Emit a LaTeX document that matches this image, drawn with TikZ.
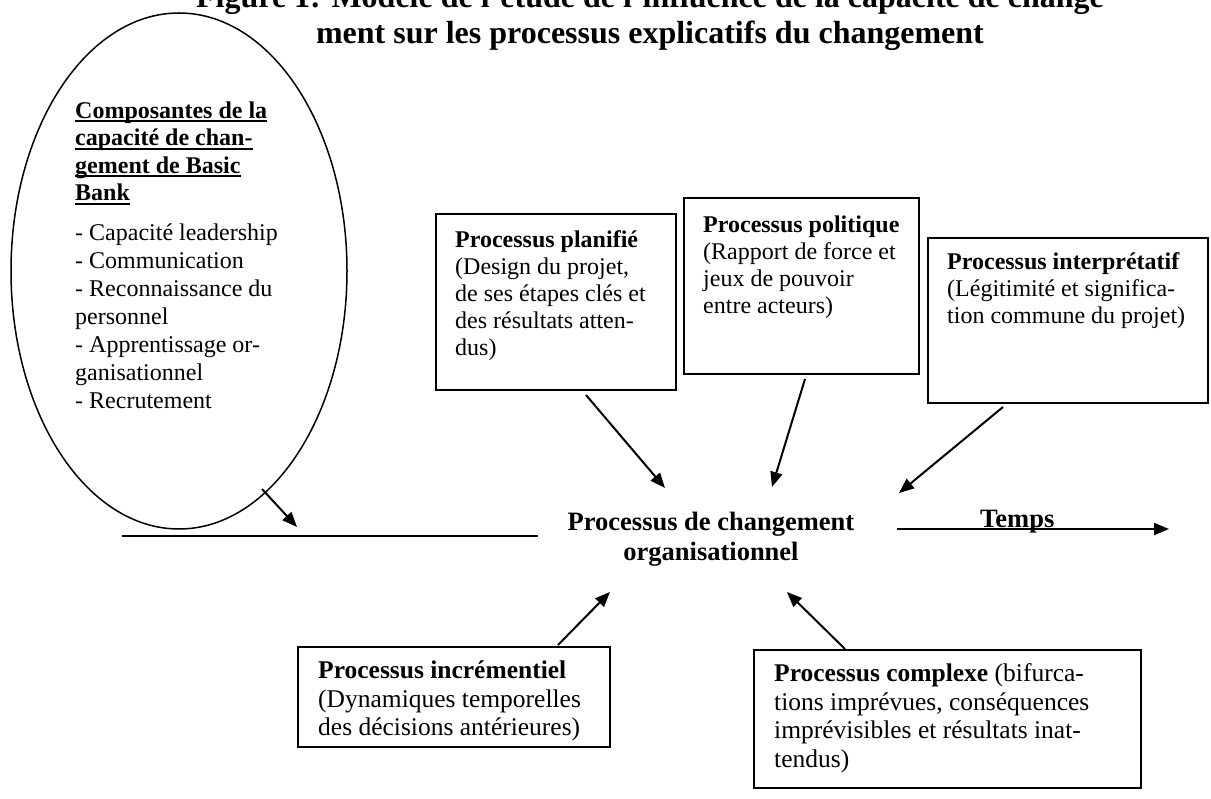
\documentclass[tikz,border=0pt]{standalone}
\usepackage{fontspec}
\setmainfont{Liberation Serif}
\usetikzlibrary{arrows.meta,shapes.geometric}
\newcommand\myul[1]{\setbox0\hbox{#1}\rlap{\rule[-4pt]{\wd0}{1.7pt}}\box0}
\newcommand\tp[1]{\rule{0pt}{#1}}
\begin{document}
\begin{tikzpicture}[x=1pt,y=-1pt,
  box/.style={draw, line width=1.8pt, inner sep=0pt, anchor=north west},
  txt/.style={anchor=north west, align=left, inner sep=0pt, font=\fontsize{24}{27}\selectfont},
  btxt/.style={anchor=north west, align=left, inner sep=0pt, font=\fontsize{25.5}{28.8}\selectfont},
  arr/.style={line width=2pt, -{Triangle[length=15pt,width=12pt]}},
  plainline/.style={line width=1.8pt}]
\clip (0,0) rectangle (1211,799);
\fill[white] (0,0) rectangle (1211,799);

% title
\node[anchor=north, align=center, inner sep=0pt, font=\fontsize{32}{36}\selectfont\bfseries] (title) at (650,-19)
  {\tp{26pt}Figure 1: Modèle de l'étude de l'influence de la capacité de change\\ment sur les processus explicatifs du changement};

% ellipse
\node[draw, ellipse, line width=1.5pt, minimum width=336pt, minimum height=516pt, inner sep=0pt] (ell) at (179,271) {};
\node[txt, font=\fontsize{24}{27.5}\selectfont\bfseries] (head) at (75,98)
  {\tp{20pt}\myul{Composantes de la}\\\myul{capacité de chan-}\\\myul{gement de Basic}\\\myul{Bank}};
\node[txt, font=\fontsize{24}{28}\selectfont] (list) at (75,220)
  {\tp{20pt}- Capacité leadership\\- Communication\\- Reconnaissance du\\personnel\\- Apprentissage or-\\ganisationnel\\- Recrutement};

% top boxes
\node[box, minimum width=240pt, minimum height=176pt] (plan) at (435,213) {};
\node[txt] (plant) at (455,227)
  {\tp{20pt}\textbf{Processus planifié}\\(Design du projet,\\de ses étapes clés et\\des résultats atten-\\dus)};
\node[box, minimum width=235pt, minimum height=176pt] (pol) at (683,197) {};
\node[txt] (polt) at (703,212)
  {\tp{20pt}\textbf{Processus politique}\\(Rapport de force et\\jeux de pouvoir\\entre acteurs)};
\node[box, minimum width=280pt, minimum height=165pt] (int) at (927,237) {};
\node[txt] (intt) at (947,249)
  {\tp{20pt}\textbf{Processus interprétatif}\\(Légitimité et significa-\\tion commune du projet)};

% centre
\node[anchor=north, align=center, inner sep=0pt, font=\fontsize{26.5}{30}\selectfont\bfseries] (proc) at (711,508)
  {\tp{22pt}Processus de changement\\organisationnel};
\node[anchor=base west, inner sep=0pt, font=\fontsize{26.5}{30}\selectfont\bfseries] (temps) at (980,528) {Temps};

% bottom boxes
\node[box, minimum width=312pt, minimum height=100pt] (inc) at (297,646) {};
\node[btxt] (inct) at (318,657)
  {\tp{21pt}\textbf{Processus incrémentiel}\\(Dynamiques temporelles\\des décisions antérieures)};
\node[box, minimum width=387pt, minimum height=138pt] (cpx) at (753,649) {};
\node[btxt] (cpxt) at (774,660)
  {\tp{21pt}\textbf{Processus complexe} (bifurca-\\tions imprévues, conséquences\\imprévisibles et résultats inat-\\tendus)};

% connector end points
\coordinate (e1) at (262,489); \coordinate (e2) at (297,527);
\coordinate (p1) at (586,395); \coordinate (p2) at (665,488);
\coordinate (q1) at (805,379); \coordinate (q2) at (772,487);
\coordinate (r1) at (1003,407); \coordinate (r2) at (899,493);
\coordinate (s1) at (558,645); \coordinate (s2) at (610,592);
\coordinate (c1) at (845,649); \coordinate (c2) at (787,592);
\coordinate (t1) at (897,529); \coordinate (t2) at (1169,529);
\coordinate (h1) at (122,536); \coordinate (h2) at (538,536);

\draw[arr] (e1) -- (e2);
\draw[arr] (p1) -- (p2);
\draw[arr] (q1) -- (q2);
\draw[arr] (r1) -- (r2);
\draw[arr] (s1) -- (s2);
\draw[arr] (c1) -- (c2);
\draw[arr] (t1) -- (t2);
\draw[plainline] (h1) -- (h2);
\end{tikzpicture}
\end{document}
